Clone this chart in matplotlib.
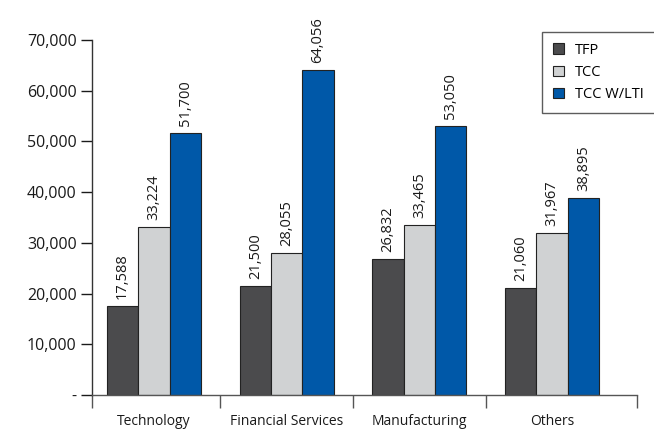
import numpy as np
import matplotlib.pyplot as plt

# Pay levels by industry
industries = ["Technology", "Financial Services", "Manufacturing", "Others"]
series_names = ["TFP", "TCC", "TCC W/LTI"]
tfp = [17588, 21500, 26832, 21060]
tcc = [33224, 28055, 33465, 31967]
tcc_lti = [51700, 64056, 53050, 38895]
colors = ["#4b4b4d", "#d0d2d3", "#0058a8"]

plt.rcParams["font.family"] = ["Open Sans", "DejaVu Sans"]

fig = plt.figure(figsize=(6.54, 4.30), dpi=100)
ax = fig.add_axes([0.1407, 0.0814, 0.974 - 0.1407, 0.907 - 0.0814])

x = np.arange(len(industries))
width = 0.236
for i, (vals, name, col) in enumerate(zip([tfp, tcc, tcc_lti], series_names, colors)):
    pos = x + (i - 1) * width
    bars = ax.bar(pos, vals, width, color=col, edgecolor="#222222", linewidth=0.8,
                  label=name, zorder=2)
    for b, v in zip(bars, vals):
        ax.annotate(f"{v:,}", (b.get_x() + b.get_width() / 2, v),
                    xytext=(0, 5), textcoords="offset points",
                    rotation=90, ha="center", va="bottom", fontsize=10.5,
                    color="#1a1a1a", annotation_clip=False)

ax.set_ylim(0, 70000)
left, right = -0.467, 3.64
ax.set_xlim(left, right)

# y axis
ax.set_yticks(range(0, 70001, 10000))
ax.set_yticklabels(["-"] + [f"{v:,}" for v in range(10000, 70001, 10000)])
ax.tick_params(axis="y", direction="out", length=8, width=1, labelsize=11.5,
               colors="#1a1a1a", pad=3)

# x axis: boundary ticks, category names centred without ticks
ax.set_xticks([left, 0.5, 1.5, 2.5, right])
ax.set_xticklabels([])
ax.tick_params(axis="x", which="major", direction="out", length=9, width=1,
               colors="#555555")
ax.set_xticks(x, minor=True)
ax.set_xticklabels(industries, minor=True)
ax.tick_params(axis="x", which="minor", length=0, pad=14, labelsize=10,
               labelcolor="#1a1a1a")

for s in ["top", "right"]:
    ax.spines[s].set_visible(False)
ax.spines["left"].set_color("#333333")
ax.spines["bottom"].set_color("#555555")
ax.spines["left"].set_linewidth(1)
ax.spines["bottom"].set_linewidth(1)

leg = ax.legend(loc="upper left", bbox_to_anchor=(541.7 / 654, 1 - 31.7 / 430),
                bbox_transform=fig.transFigure, fontsize=10.5, frameon=True,
                fancybox=False, edgecolor="#333333", handlelength=0.75,
                handleheight=0.75, handletextpad=0.8, borderpad=0.75,
                labelspacing=0.5, borderaxespad=0)
leg.get_frame().set_linewidth(1)

fig.savefig("out.png", dpi=100)
